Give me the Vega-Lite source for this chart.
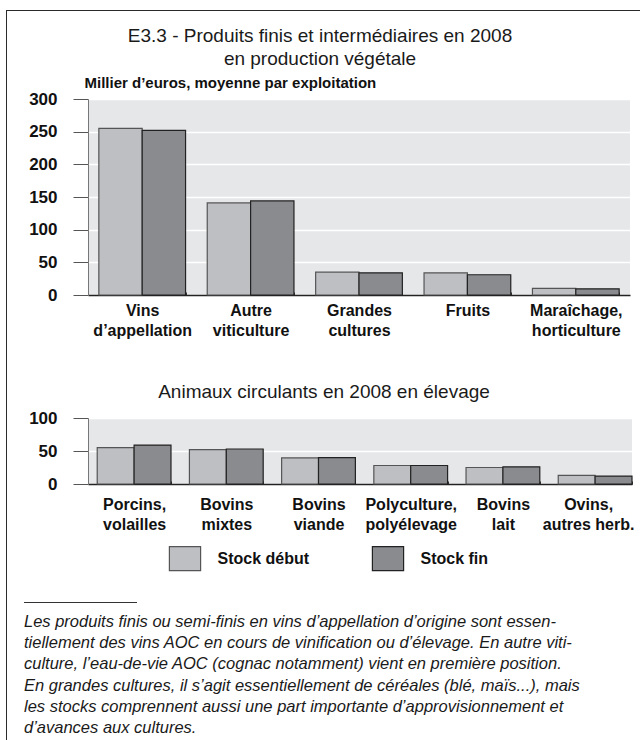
{
  "$schema": "https://vega.github.io/schema/vega-lite/v6.json",
  "padding": {"left": 6, "top": 10, "right": 0, "bottom": 0},
  "background": "white",
  "config": {
    "view": {"stroke": null},
    "font": "Liberation Sans"
  },
  "spacing": 0,
  "vconcat": [
    {
      "width": 634, "height": 1,
      "view": {"fill": "#2a2a2a", "stroke": null},
      "data": {"values": []},
      "mark": "point",
      "encoding": {}
    },
    {
      "spacing": 17,
      "hconcat": [
        {
          "width": 1, "height": 591,
          "view": {"fill": "#2a2a2a", "stroke": null},
          "data": {"values": []},
          "mark": "point",
          "encoding": {}
        },
        {
          "spacing": 0,
          "resolve": {"scale": {"fill": "independent", "stroke": "independent", "x": "independent", "y": "independent", "xOffset": "independent"}, "legend": {"fill": "independent", "stroke": "independent"}},
          "vconcat": [
            {
              "width": 1, "height": 16,
              "data": {"values": []},
              "mark": "point",
              "encoding": {}
            },
            {
              "width": 542, "height": 196,
              "view": {"fill": "#e6e7e9", "stroke": null},
              "title": {
                "text": ["E3.3 - Produits finis et intermédiaires en 2008", "en production végétale"],
                "font": "Liberation Sans", "fontSize": 19, "fontWeight": "normal", "color": "#1a1a1a",
                "lineHeight": 23, "anchor": "middle", "frame": "group", "dx": -39, "offset": 6
              },
              "data": {"values": [
                {"categorie": "Vins d’appellation", "serie": "Stock début", "valeur": 255},
                {"categorie": "Vins d’appellation", "serie": "Stock fin", "valeur": 252},
                {"categorie": "Autre viticulture", "serie": "Stock début", "valeur": 141},
                {"categorie": "Autre viticulture", "serie": "Stock fin", "valeur": 144},
                {"categorie": "Grandes cultures", "serie": "Stock début", "valeur": 35},
                {"categorie": "Grandes cultures", "serie": "Stock fin", "valeur": 34},
                {"categorie": "Fruits", "serie": "Stock début", "valeur": 34},
                {"categorie": "Fruits", "serie": "Stock fin", "valeur": 31},
                {"categorie": "Maraîchage, horticulture", "serie": "Stock début", "valeur": 10},
                {"categorie": "Maraîchage, horticulture", "serie": "Stock fin", "valeur": 9.5}
              ]},
              "mark": {"type": "bar", "strokeWidth": 1.2},
              "encoding": {
                "x": {
                  "field": "categorie", "type": "nominal", "sort": null,
                  "scale": {"paddingInner": 0.2, "paddingOuter": 0.1},
                  "axis": {
                    "title": null, "labelAngle": 0,
                    "labelExpr": "indexof(datum.label, ' ') < 0 ? datum.label : [substring(datum.label, 0, indexof(datum.label, ' ')), substring(datum.label, indexof(datum.label, ' ') + 1)]",
                    "labelFont": "Liberation Sans", "labelFontWeight": "bold", "labelFontSize": 16,
                    "labelColor": "#111", "labelLineHeight": 20.5, "labelPadding": 10,
                    "domainColor": "#222", "domainWidth": 1.5,
                    "tickBand": "extent", "tickSize": -3, "tickColor": "#333"
                  }
                },
                "xOffset": {"field": "serie", "type": "nominal", "sort": null},
                "y": {
                  "field": "valeur", "type": "quantitative",
                  "scale": {"domain": [0, 300]},
                  "axis": {
                    "title": "Millier d’euros, moyenne par exploitation",
                    "titleAngle": 0, "titleAlign": "left", "titleBaseline": "alphabetic",
                    "titleX": -4, "titleY": -12,
                    "titleFont": "Liberation Sans", "titleFontWeight": "bold", "titleFontSize": 15, "titleColor": "#111",
                    "values": [0, 50, 100, 150, 200, 250, 300],
                    "labelFont": "Liberation Sans", "labelFontWeight": "bold", "labelFontSize": 17, "labelColor": "#111",
                    "labelPadding": 16, "tickSize": 15, "tickColor": "#555",
                    "domainColor": "#777", "grid": true, "gridColor": "white", "gridWidth": 1.5,
                    "minExtent": 64
                  }
                },
                "fill": {
                  "field": "serie", "type": "nominal",
                  "scale": {"domain": ["Stock début", "Stock fin"], "range": ["#bebfc3", "#8a8b8f"]},
                  "legend": null
                },
                "stroke": {
                  "field": "serie", "type": "nominal",
                  "scale": {"domain": ["Stock début", "Stock fin"], "range": ["#555555", "#222222"]},
                  "legend": null
                }
              }
            },
            {
              "width": 1, "height": 44,
              "data": {"values": []},
              "mark": "point",
              "encoding": {}
            },
            {
              "width": 544, "height": 66,
              "view": {"fill": "#e6e7e9", "stroke": null},
              "title": {
                "text": "Animaux circulants en 2008 en élevage",
                "font": "Liberation Sans", "fontSize": 19, "fontWeight": "normal", "color": "#1a1a1a",
                "anchor": "middle", "frame": "group", "dx": -36, "offset": 7
              },
              "data": {"values": [
                {"categorie": "Porcins, volailles", "serie": "Stock début", "valeur": 55},
                {"categorie": "Porcins, volailles", "serie": "Stock fin", "valeur": 59},
                {"categorie": "Bovins mixtes", "serie": "Stock début", "valeur": 52},
                {"categorie": "Bovins mixtes", "serie": "Stock fin", "valeur": 53},
                {"categorie": "Bovins viande", "serie": "Stock début", "valeur": 39.5},
                {"categorie": "Bovins viande", "serie": "Stock fin", "valeur": 40},
                {"categorie": "Polyculture, polyélevage", "serie": "Stock début", "valeur": 28},
                {"categorie": "Polyculture, polyélevage", "serie": "Stock fin", "valeur": 28},
                {"categorie": "Bovins lait", "serie": "Stock début", "valeur": 25},
                {"categorie": "Bovins lait", "serie": "Stock fin", "valeur": 26},
                {"categorie": "Ovins, autres herb.", "serie": "Stock début", "valeur": 13},
                {"categorie": "Ovins, autres herb.", "serie": "Stock fin", "valeur": 12}
              ]},
              "mark": {"type": "bar", "strokeWidth": 1.2},
              "encoding": {
                "x": {
                  "field": "categorie", "type": "nominal", "sort": null,
                  "scale": {"paddingInner": 0.2, "paddingOuter": 0.05, "align": 1},
                  "axis": {
                    "title": null, "labelAngle": 0,
                    "labelExpr": "indexof(datum.label, ' ') < 0 ? datum.label : [substring(datum.label, 0, indexof(datum.label, ' ')), substring(datum.label, indexof(datum.label, ' ') + 1)]",
                    "labelFont": "Liberation Sans", "labelFontWeight": "bold", "labelFontSize": 16,
                    "labelColor": "#111", "labelLineHeight": 20.5, "labelPadding": 15,
                    "labelOffset": {"condition": {"test": "datum.value === 'Ovins, autres herb.'", "value": -7}, "value": 0},
                    "domainColor": "#222", "domainWidth": 1.5,
                    "tickBand": "extent", "tickSize": -3, "tickColor": "#333"
                  }
                },
                "xOffset": {"field": "serie", "type": "nominal", "sort": null},
                "y": {
                  "field": "valeur", "type": "quantitative",
                  "scale": {"domain": [0, 100]},
                  "axis": {
                    "title": null,
                    "values": [0, 50, 100],
                    "labelFont": "Liberation Sans", "labelFontWeight": "bold", "labelFontSize": 17, "labelColor": "#111",
                    "labelPadding": 16, "tickSize": 15, "tickColor": "#555",
                    "domainColor": "#777", "grid": true, "gridColor": "white", "gridWidth": 1.5,
                    "minExtent": 64
                  }
                },
                "fill": {
                  "field": "serie", "type": "nominal",
                  "scale": {"domain": ["Stock début", "Stock fin"], "range": ["#bebfc3", "#8a8b8f"]},
                  "legend": {
                    "title": null, "orient": "none", "legendX": 84, "legendY": 127.4,
                    "direction": "horizontal",
                    "symbolType": "M-1.3,-1H1.3V1H-1.3Z", "symbolSize": 576,
                    "symbolStrokeColor": "#333", "symbolStrokeWidth": 1.2,
                    "labelFont": "Liberation Sans", "labelFontWeight": "bold", "labelFontSize": 16,
                    "labelColor": "#111", "labelOffset": 19.5, "columnPadding": 60
                  }
                },
                "stroke": {
                  "field": "serie", "type": "nominal",
                  "scale": {"domain": ["Stock début", "Stock fin"], "range": ["#555555", "#222222"]},
                  "legend": null
                }
              }
            }
          ]
        }
      ]
    },
    {
      "spacing": 17,
      "hconcat": [
        {
          "width": 1, "height": 138,
          "view": {"fill": "#2a2a2a", "stroke": null},
          "data": {"values": []},
          "mark": "point",
          "encoding": {}
        },
        {
          "width": 113, "height": 1,
          "view": {"fill": "#333333", "stroke": null},
          "title": {
            "text": [
              "Les produits finis ou semi-finis en vins d’appellation d’origine sont essen-",
              "tiellement des vins AOC en cours de vinification ou d’élevage. En autre viti-",
              "culture, l’eau-de-vie AOC (cognac notamment) vient en première position.",
              "En grandes cultures, il s’agit essentiellement de céréales (blé, maïs...), mais",
              "les stocks comprennent aussi une part importante d’approvisionnement et",
              "d’avances aux cultures."
            ],
            "orient": "bottom", "anchor": "start", "frame": "bounds",
            "font": "Liberation Sans", "fontSize": 16.5, "fontStyle": "italic", "fontWeight": "normal",
            "color": "#1a1a1a", "lineHeight": 21.2, "offset": 11, "baseline": "top"
          },
          "data": {"values": []},
          "mark": "point",
          "encoding": {}
        }
      ]
    }
  ]
}
